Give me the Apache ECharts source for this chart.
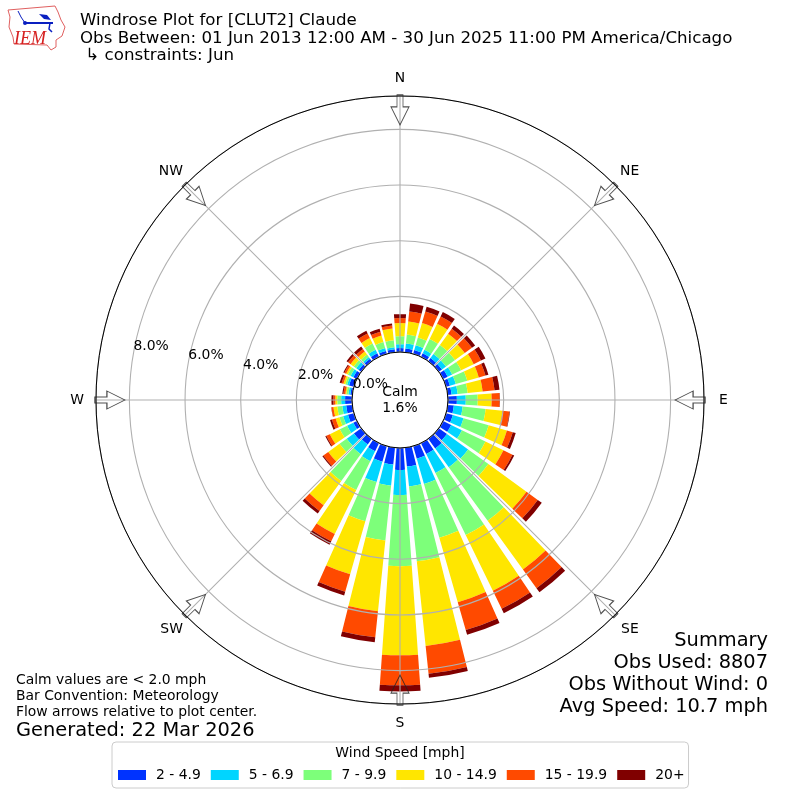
<!DOCTYPE html>
<html><head><meta charset="utf-8">
<style>html,body{margin:0;padding:0;background:#fff}#c{width:800px;height:800px}</style>
<script src="https://cdn.jsdelivr.net/npm/echarts@6/dist/echarts.min.js"></script>
</head><body><div id="c"></div>
<script>
const directions = ['0','10','20','30','40','50','60','70','80','90','100','110','120','130','140','150','160','170','180','190','200','210','220','230','240','250','260','270','280','290','300','310','320','330','340','350'];
const speedLabels = ['2 - 4.9','5 - 6.9','7 - 9.9','10 - 14.9','15 - 19.9','20+'];
const speedColors = ['#0033ff','#00d5ff','#7dff7a','#ffe600','#ff4a00','#800000'];
const s2to5   = [.14,.14,.14,.14,.14,.14,.18,.14,.14,.32,.22,.25,.32,.36,.43,.43,.47,.68,.79,.61,.58,.32,.25,.32,.14,.22,.22,.25,.07,.18,.14,.11,.11,.14,.11,.11];
const s5to7   = [.14,.18,.18,.14,.18,.18,.18,.22,.22,.32,.32,.40,.43,.94,.83,.76,.94,.72,.90,.76,.76,.40,.43,.32,.25,.18,.14,.14,.07,.07,.11,.11,.07,.14,.11,.07];
const s7to10  = [.29,.32,.29,.43,.40,.40,.36,.43,.36,.43,.83,.94,.94,.90,2.38,2.48,2.01,2.70,2.56,1.98,1.47,1.15,1.19,.32,.29,.14,.18,.14,.07,.07,.11,.11,.11,.25,.22,.25];
const s10to15 = [.47,.47,.54,.61,.50,.43,.50,.43,.54,.50,.61,.68,.72,1.69,2.16,2.23,2.41,3.06,3.20,2.56,1.98,1.76,1.08,.50,.40,.14,.14,.07,.04,.07,.07,.14,.14,.22,.25,.43];
const s15to20 = [.18,.36,.43,.29,.22,.32,.29,.25,.43,.29,.25,.22,.36,.50,.83,.72,1.04,1.01,1.08,.94,.65,.29,.25,.22,.14,.14,.07,.07,.07,.07,.07,.11,.11,.18,.14,.11];
const s20up   = [.14,.29,.18,.18,.14,.14,.18,.11,.18,.01,.02,.11,.07,.18,.18,.18,.18,.14,.22,.18,.14,.14,.11,.04,.04,.07,.01,.07,.04,.07,.04,.07,.11,.11,.11,.07];
const speedSeries = [s2to5,s5to7,s7to10,s10to15,s15to20,s20up];
const compass = ['N','NE','E','SE','S','SW','W','NW'];
const titleLines = ['Windrose Plot for [CLUT2] Claude','Obs Between: 01 Jun 2013 12:00 AM - 30 Jun 2025 11:00 PM America/Chicago',' \u21b3 constraints: Jun'];
const summaryLines = ['Summary','Obs Used: 8807','Obs Without Wind: 0','Avg Speed: 10.7 mph'];
const noteLines = ['Calm values are < 2.0 mph','Bar Convention: Meteorology','Flow arrows relative to plot center.'];

const compassPadding = [[0,0,8,0],[0,0,5,3],[0,0,0,12],[5,0,0,4],[9,0,0,0],[5,0,0,0],[0,9,0,0],[0,0,5,0]];
const FF = '"DejaVu Sans"';
const txt = (x,y,s,size,align,extra)=>({type:'text',x,y,silent:true,z:50,style:Object.assign({text:s,fill:'#000',font:size+'px '+FF,textAlign:align||'left',textVerticalAlign:'middle'},extra||{})});
const graphics = [];
titleLines.forEach((s,i)=>graphics.push(txt(80,21+i*17.5,s,16.67)));
summaryLines.forEach((s,i)=>graphics.push(txt(768,641+i*22,s,19.4,'right')));
noteLines.forEach((s,i)=>graphics.push(txt(16,680.5+i*16,s,13.9)));
graphics.push(txt(16,731,'Generated: 22 Mar 2026',19.4));
graphics.push(txt(400,392,'Calm',13.9,'center'));
graphics.push(txt(400,408.5,'1.6%',13.9,'center'));
graphics.push(txt(400,753.5,'Wind Speed [mph]',13.9,'center'));
// logo
graphics.push({type:'polygon',silent:true,z:50,shape:{points:[[8,10],[55,6],[58,12],[61,20],[65,27],[62,36],[56,40],[56,47],[51,50],[47,45],[14,44],[13,37],[9,27],[10,17]]},style:{fill:'#fff',stroke:'#e06060',lineWidth:1}});
graphics.push({type:'polyline',silent:true,z:51,shape:{points:[[25,23],[53,23]]},style:{stroke:'#0a1fc0',lineWidth:2,fill:'none'}});
graphics.push({type:'polyline',silent:true,z:51,shape:{points:[[18,11],[21,17],[25,23]]},style:{stroke:'#0a1fc0',lineWidth:1,fill:'none'}});
graphics.push({type:'polygon',silent:true,z:51,shape:{points:[[39,14],[47,15],[51,20],[44,19]]},style:{fill:'#0a1fc0'}});
graphics.push({type:'polyline',silent:true,z:51,shape:{points:[[50,23],[49,29],[52,32]]},style:{stroke:'#0a1fc0',lineWidth:1.5,fill:'none'}});
graphics.push({type:'circle',silent:true,z:51,shape:{cx:25,cy:23,r:2},style:{fill:'#0a1fc0'}});
graphics.push(txt(30,39,'IEM',18,'center',{fill:'#d62020',font:'italic 18px "Liberation Serif"'}));

const ARROW = 'path://M6 0H12V12H18L9 30L0 12H6Z';
const arrowRadius = 8.7;

const opt = {
  animation:false,
  backgroundColor:'#fff',
  textStyle:{fontFamily:FF},
  polar:[
    {center:[400,400],radius:[48,304]},
    {center:[400,400],radius:[48,304]},
    {center:[400,400],radius:[48,304]}
  ],
  angleAxis:[
    {polarIndex:0,type:'category',data:directions,startAngle:95,clockwise:true,boundaryGap:true,axisLine:{show:false},axisTick:{show:false},axisLabel:{show:false},splitLine:{show:false},z:1},
    {polarIndex:1,type:'category',data:compass.map((c,i)=>({value:c,textStyle:{padding:compassPadding[i]}})),startAngle:90,clockwise:true,boundaryGap:false,z:6,
      axisLine:{show:false},axisTick:{show:false},
      axisLabel:{show:true,margin:3,fontSize:13.9,color:'#000',fontFamily:FF},
      splitLine:{show:true,lineStyle:{color:'#b0b0b0',width:1.1}}},
    {polarIndex:2,type:'value',min:0,max:360,startAngle:170,clockwise:true,z:8,axisLine:{show:true,lineStyle:{color:'#000',width:1}},axisTick:{show:false},axisLabel:{show:false},splitLine:{show:false}}
  ],
  radiusAxis:[
    {polarIndex:0,type:'value',min:0,max:9.2,show:false,axisLine:{show:false},axisTick:{show:false},axisLabel:{show:false},splitLine:{show:false}},
    {polarIndex:1,type:'value',min:0,max:9.2,show:false,axisLine:{show:false},axisTick:{show:false},axisLabel:{show:false},splitLine:{show:false}},
    {polarIndex:2,type:'value',min:0,max:9.2,interval:2,z:7,axisLine:{show:false},axisTick:{show:false},splitLine:{show:true,lineStyle:{color:'#b0b0b0',width:1.1}},
      axisLabel:{show:true,fontSize:13.9,color:'#000',fontFamily:FF,margin:0,align:'left',verticalAlign:'bottom',formatter:v=>v>8?'':v.toFixed(1)+'%'}}
  ],
  legend:{left:112,top:742,orient:'horizontal',data:speedLabels,icon:'rect',itemWidth:28,itemHeight:10,itemGap:10,
    padding:[26,4,6,6],borderColor:'#ccc',borderWidth:1,borderRadius:4,backgroundColor:'#fff',
    textStyle:{fontSize:13.9,color:'#000',fontFamily:FF,padding:[0,0,0,5]},selectedMode:false},
  series: speedSeries.map((d,i)=>({
    name:speedLabels[i],type:'bar',coordinateSystem:'polar',polarIndex:0,stack:'wind',data:d,barWidth:'81%',z:2,
    itemStyle:{color:speedColors[i]},silent:true,legendHoverLink:false
  })).concat([{
    type:'scatter',coordinateSystem:'polar',polarIndex:1,z:10,silent:true,
    symbol:ARROW,symbolSize:[18,30],
    itemStyle:{color:'rgba(255,255,255,0)',borderColor:'#222',borderWidth:1},
    data:compass.map((c,i)=>({value:[arrowRadius,i],symbolRotate:-45*i}))
  }]),
  graphic:graphics
};
const chart = echarts.init(document.getElementById('c'),null,{renderer:'canvas'});
chart.setOption(opt);
</script></body></html>
